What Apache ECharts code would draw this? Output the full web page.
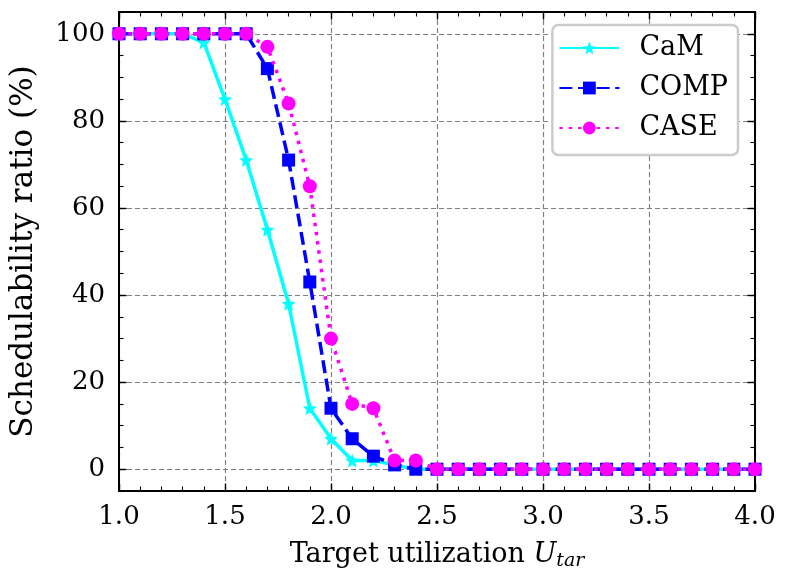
<!DOCTYPE html>
<html>
<head>
<meta charset="utf-8">
<script src="https://cdn.jsdelivr.net/npm/echarts@6/dist/echarts.min.js"></script>
<style>
  html, body { margin: 0; padding: 0; background: #fff; }
  #chart { width: 790px; height: 588px; }
</style>
</head>
<body>
<div id="chart"></div>
<script>
// target utilization (x)
var utilization = [1.0, 1.1, 1.2, 1.3, 1.4, 1.5, 1.6, 1.7, 1.8, 1.9, 2.0,
    2.1, 2.2, 2.3, 2.4, 2.5, 2.6, 2.7, 2.8, 2.9, 3.0,
    3.1, 3.2, 3.3, 3.4, 3.5, 3.6, 3.7, 3.8, 3.9, 4.0];

// schedulability ratio (%)
var camVals = [100, 100, 100, 100, 98, 85, 71, 55, 38, 14, 7,
    2, 2, 1, 0, 0, 0, 0, 0, 0, 0,
    0, 0, 0, 0, 0, 0, 0, 0, 0, 0];
var compVals = [100, 100, 100, 100, 100, 100, 100, 92, 71, 43, 14,
    7, 3, 1, 0, 0, 0, 0, 0, 0, 0,
    0, 0, 0, 0, 0, 0, 0, 0, 0, 0];
var caseVals = [100, 100, 100, 100, 100, 100, 100, 97, 84, 65, 30,
    15, 14, 2, 2, 0, 0, 0, 0, 0, 0,
    0, 0, 0, 0, 0, 0, 0, 0, 0, 0];

var yTicks = [0, 20, 40, 60, 80, 100];

var FONT = 'DejaVu Serif';
var starPath = 'path://M0,-10L2.6,-3.6L9.5,-3.1L4.2,1.4L5.9,8.1L0,4.4L-5.9,8.1L-4.2,1.4L-9.5,-3.1L-2.6,-3.6Z';

function pairs(vals) {
    var out = [];
    for (var i = 0; i < utilization.length; i++) {
        out.push([utilization[i], vals[i]]);
    }
    return out;
}

var myChart = echarts.init(document.getElementById('chart'), null, {renderer: 'canvas'});

var axisLineStyle = {color: '#000', width: 2};
var gridLine = {show: true, lineStyle: {color: '#808080', type: [5, 3], width: 1.2}};

function xAxisDef(pos, withLabels) {
    return {
        type: 'value',
        position: pos,
        min: 1, max: 4, interval: 0.5,
        axisLine: {show: true, onZero: false, lineStyle: axisLineStyle},
        axisTick: {show: true, inside: true, length: 7.5, lineStyle: {color: '#000', width: 1.4}},
        minorTick: {show: true, splitNumber: 5, length: 4.5, lineStyle: {color: '#000', width: 1.1}},
        axisLabel: {
            show: withLabels, color: '#000', fontFamily: FONT, fontSize: 26, margin: 13,
            formatter: function (v) { return v.toFixed(1); }
        },
        splitLine: withLabels ? gridLine : {show: false},
        name: withLabels ? '{n|Target utilization }{u|U}{s|tar}' : '',
        nameLocation: 'middle',
        nameGap: 47,
        nameTextStyle: {
            rich: {
                n: {fontFamily: FONT, fontSize: 27, color: '#000'},
                u: {fontFamily: FONT, fontSize: 27, fontStyle: 'italic', color: '#000'},
                s: {fontFamily: FONT, fontSize: 19, fontStyle: 'italic', color: '#000', padding: [14, 0, 0, 0]}
            }
        }
    };
}

function yMajorDef(pos, withLabels) {
    return {
        type: 'value',
        position: pos,
        min: -5, max: 105,
        axisLine: {show: true, onZero: false, lineStyle: axisLineStyle},
        axisTick: {show: true, inside: true, length: 7.5, customValues: yTicks, lineStyle: {color: '#000', width: 1.4}},
        axisLabel: {
            show: withLabels, color: '#000', fontFamily: FONT, fontSize: 26, margin: 14,
            customValues: yTicks
        },
        splitLine: withLabels ? gridLine : {show: false},
        name: withLabels ? 'Schedulability ratio (%)' : '',
        nameLocation: 'middle',
        nameGap: 80,
        nameTextStyle: {fontFamily: FONT, fontSize: 31, color: '#000'}
    };
}

function yMinorDef(pos) {
    return {
        type: 'value',
        position: pos,
        min: -5, max: 105, interval: 5,
        axisLine: {show: false},
        axisTick: {show: true, inside: true, length: 4.5, lineStyle: {color: '#000', width: 1.1}},
        axisLabel: {show: false},
        splitLine: {show: false}
    };
}

var option = {
    animation: false,
    backgroundColor: '#fff',
    grid: {left: 118, right: 35, top: 12, bottom: 97, containLabel: false},
    legend: {
        right: 52, top: 25,
        orient: 'vertical',
        backgroundColor: '#fff',
        borderColor: '#cccccc',
        borderWidth: 2.5,
        borderRadius: 6,
        padding: [8, 10, 12, 6],
        itemWidth: 60,
        itemHeight: 16,
        itemGap: 10,
        textStyle: {fontFamily: FONT, fontSize: 27, lineHeight: 30, color: '#000', padding: [0, 0, 0, 15]},
        data: ['CaM', 'COMP', 'CASE']
    },
    xAxis: [xAxisDef('bottom', true), xAxisDef('top', false)],
    yAxis: [yMajorDef('left', true), yMajorDef('right', false), yMinorDef('left'), yMinorDef('right')],
    series: [
        {
            name: 'CaM',
            type: 'line',
            data: pairs(camVals),
            symbol: starPath,
            symbolSize: 14,
            itemStyle: {color: '#00ffff'},
            lineStyle: {color: '#00ffff', width: 3.5, type: 'solid'},
            z: 2
        },
        {
            name: 'COMP',
            type: 'line',
            data: pairs(compVals),
            symbol: 'rect',
            symbolSize: 13,
            itemStyle: {color: '#0000ff'},
            lineStyle: {color: '#0000ff', width: 3.5, type: [13, 5.6]},
            z: 3
        },
        {
            name: 'CASE',
            type: 'line',
            data: pairs(caseVals),
            symbol: 'circle',
            symbolSize: 14,
            itemStyle: {color: '#ff00ff'},
            lineStyle: {color: '#ff00ff', width: 3.5, type: [3.5, 5.8]},
            z: 4
        }
    ]
};

myChart.setOption(option);
</script>
</body>
</html>
